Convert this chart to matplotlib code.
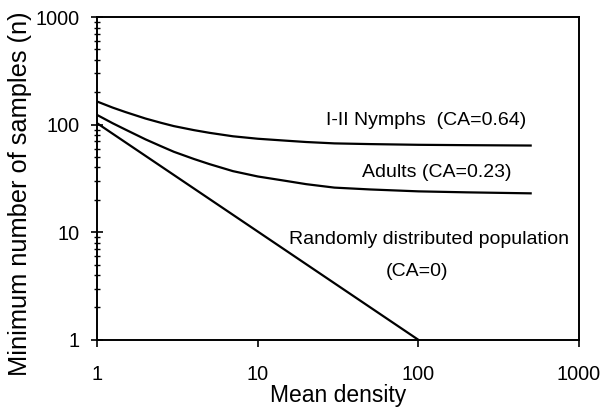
import matplotlib
matplotlib.use('Agg')
import matplotlib.pyplot as plt
from matplotlib.ticker import LogLocator, FixedLocator, NullFormatter

plt.rcParams['font.family'] = ['Liberation Sans', 'DejaVu Sans']

# values
density = [1, 1.25, 1.5, 2, 2.5, 3, 4, 5, 7, 10, 15, 20, 30, 50, 100, 200, 500]
nymphs = [164, 144, 131, 114, 104, 97, 89, 84, 78, 74, 71, 69, 67, 66, 65, 64.5, 64]
adults = [123, 103, 90, 73, 63, 56, 48, 43, 37, 33, 30, 28, 26, 25, 24, 23.5, 23]
random_x = [1, 100]
random_y = [103, 1]

x_ticks = [1, 10, 100, 1000]
y_ticks = [1, 10, 100, 1000]

fig = plt.figure(figsize=(6, 4.07), dpi=100)
ax = fig.add_axes([0.162, 0.165, 0.803, 0.793])

ax.plot(density, nymphs, color='black', lw=1.6)
ax.plot(density, adults, color='black', lw=1.6)
ax.plot(random_x, random_y, color='black', lw=1.6)

ax.set_xscale('log')
ax.set_yscale('log')
ax.set_xlim(1, 1000)
ax.set_ylim(1, 1000)

ax.xaxis.set_major_locator(FixedLocator(x_ticks))
ax.yaxis.set_major_locator(FixedLocator(y_ticks))
ax.set_xticklabels([str(t) for t in x_ticks])
ax.set_yticklabels([str(t) for t in y_ticks])
ax.xaxis.set_minor_locator(FixedLocator([]))
ax.yaxis.set_minor_locator(LogLocator(base=10, subs=range(2, 10)))
ax.yaxis.set_minor_formatter(NullFormatter())

ax.tick_params(axis='both', which='major', direction='out', length=5, width=1.2,
               labelsize=14.3, pad=6)
ax.tick_params(axis='y', which='major', direction='inout', length=8, pad=9)
ax.tick_params(axis='y', which='minor', direction='inout', length=4, width=1)
ax.tick_params(axis='x', which='major', pad=13)

for s in ax.spines.values():
    s.set_linewidth(1.4)

ax.set_xlabel('Mean density', fontsize=16.5, labelpad=0)
ax.set_ylabel('Minimum number of samples (n)', fontsize=18.3)
ax.yaxis.set_label_coords(-0.135, 0.452)

ax.text(0.475, 0.681, 'I-II Nymphs  (CA=0.64)', fontsize=14, ha='left', va='center',
        transform=ax.transAxes)
ax.text(0.550, 0.517, 'Adults (CA=0.23)', fontsize=14, ha='left', va='center',
        transform=ax.transAxes)
ax.text(0.689, 0.310, 'Randomly distributed population', fontsize=14, ha='center',
        va='center', transform=ax.transAxes)
ax.text(0.664, 0.211, '(CA=0)', fontsize=14, ha='center', va='center',
        transform=ax.transAxes)

fig.savefig('out.png', dpi=100)
